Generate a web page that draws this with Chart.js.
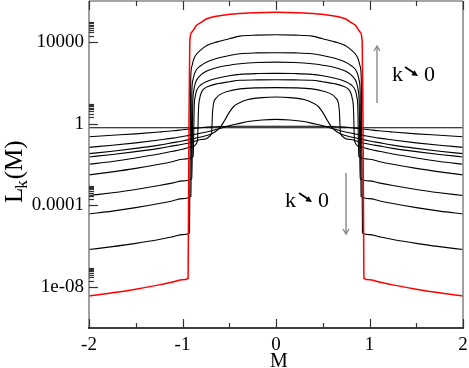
<!DOCTYPE html>
<html><head><meta charset="utf-8">
<script src="https://cdn.jsdelivr.net/npm/chart.js@4/dist/chart.umd.min.js"></script>
<style>html,body{margin:0;padding:0;background:#fff;}#wrap{width:469px;height:368px;}</style>
</head><body><div id="wrap"><canvas id="c" width="469" height="368"></canvas></div>
<script>
// ---- axis ticks ----
const xMajorTicks = [-2, -1, 0, 1, 2];
const xMinorTicks = [-1.5, -0.5, 0.5, 1.5];
const yMajorTicks = [1e-8, 1e-4, 1, 1e4];
const yTickLabels = ['1e-08', '0.0001', '1', '10000'];
const yMinorMultipliers = [2, 3, 4, 5, 6, 7, 8, 9];

// ---- curves: M values and log10(L_k(M)) ----
const mRed = [-2,-1.75,-1.5,-1.25,-1.1,-1,-0.94,-0.931,-0.922,-0.9,-0.85,-0.81,-0.74,-0.53,-0.3,0,0.3,0.53,0.74,0.81,0.85,0.9,0.922,0.931,0.94,1,1.1,1.25,1.5,1.75,2];
const logRed = [-8.43,-8.28,-8.10,-7.89,-7.75,-7.64,-7.57,0,4.0,4.48,4.81,4.93,5.13,5.33,5.41,5.45,5.41,5.33,5.13,4.93,4.81,4.48,4.0,0,-7.57,-7.64,-7.75,-7.89,-8.10,-8.28,-8.43];

const m9 = [-2,-1.75,-1.5,-1.25,-1.1,-1,-0.925,-0.912,-0.9,-0.88,-0.85,-0.81,-0.74,-0.63,-0.5,-0.385,-0.2,0,0.2,0.385,0.5,0.63,0.74,0.81,0.85,0.88,0.9,0.912,0.925,1,1.1,1.25,1.5,1.75,2];
const log9 = [-6.16,-6.02,-5.86,-5.67,-5.53,-5.43,-5.35,2.2,2.8,3.15,3.4,3.58,3.82,4.0,4.15,4.28,4.33,4.35,4.33,4.28,4.15,4.0,3.82,3.58,3.4,3.15,2.8,2.2,-5.35,-5.43,-5.53,-5.67,-5.86,-6.02,-6.16];

const m8 = [-2,-1.75,-1.5,-1.25,-1.1,-1,-0.91,-0.9,-0.89,-0.875,-0.85,-0.81,-0.74,-0.63,-0.5,-0.385,-0.2,0,0.2,0.385,0.5,0.63,0.74,0.81,0.85,0.875,0.89,0.9,0.91,1,1.1,1.25,1.5,1.75,2];
const log8 = [-4.42,-4.28,-4.11,-3.91,-3.77,-3.67,-3.56,1.5,2.1,2.4,2.65,2.82,3.02,3.2,3.33,3.42,3.46,3.47,3.46,3.42,3.33,3.2,3.02,2.82,2.65,2.4,2.1,1.5,-3.56,-3.67,-3.77,-3.91,-4.11,-4.28,-4.42];

const m7 = [-2,-1.75,-1.5,-1.25,-1.1,-1,-0.9,-0.89,-0.88,-0.865,-0.84,-0.8,-0.74,-0.63,-0.5,-0.385,-0.2,0,0.2,0.385,0.5,0.63,0.74,0.8,0.84,0.865,0.88,0.89,0.9,1,1.1,1.25,1.5,1.75,2];
const log7 = [-3.52,-3.38,-3.22,-3.03,-2.90,-2.80,-2.69,1.0,1.6,1.95,2.2,2.4,2.57,2.75,2.86,2.93,2.99,3.01,2.99,2.93,2.86,2.75,2.57,2.4,2.2,1.95,1.6,1.0,-2.69,-2.80,-2.90,-3.03,-3.22,-3.38,-3.52];

const m6 = [-2,-1.75,-1.5,-1.25,-1.1,-1,-0.885,-0.875,-0.865,-0.85,-0.82,-0.78,-0.72,-0.63,-0.5,-0.385,-0.2,0,0.2,0.385,0.5,0.63,0.72,0.78,0.82,0.85,0.865,0.875,0.885,1,1.1,1.25,1.5,1.75,2];
const log6 = [-2.51,-2.36,-2.19,-1.99,-1.85,-1.74,-1.61,0.8,1.3,1.6,1.83,1.97,2.1,2.22,2.34,2.41,2.45,2.46,2.45,2.41,2.34,2.22,2.1,1.97,1.83,1.6,1.3,0.8,-1.61,-1.74,-1.85,-1.99,-2.19,-2.36,-2.51];

const m5 = [-2,-1.75,-1.5,-1.25,-1.1,-1,-0.9,-0.84,-0.828,-0.815,-0.8,-0.77,-0.72,-0.63,-0.5,-0.385,-0.2,0,0.2,0.385,0.5,0.63,0.72,0.77,0.8,0.815,0.828,0.84,0.9,1,1.1,1.25,1.5,1.75,2];
const log5 = [-1.99,-1.85,-1.68,-1.49,-1.35,-1.25,-1.13,-0.85,0.8,1.25,1.5,1.7,1.83,1.95,2.05,2.12,2.14,2.15,2.14,2.12,2.05,1.95,1.83,1.7,1.5,1.25,0.8,-0.85,-1.13,-1.25,-1.35,-1.49,-1.68,-1.85,-1.99];

const m4 = [-2,-1.75,-1.5,-1.25,-1.1,-1,-0.9,-0.8,-0.69,-0.678,-0.665,-0.64,-0.6,-0.5,-0.385,-0.2,0,0.2,0.385,0.5,0.6,0.64,0.665,0.678,0.69,0.8,0.9,1,1.1,1.25,1.5,1.75,2];
const log4 = [-1.63,-1.51,-1.37,-1.21,-1.09,-1.01,-0.91,-0.78,-0.5,0.6,1.05,1.25,1.42,1.6,1.70,1.75,1.76,1.75,1.70,1.6,1.42,1.25,1.05,0.6,-0.5,-0.78,-0.91,-1.01,-1.09,-1.21,-1.37,-1.51,-1.63];

const m3 = [-2,-1.75,-1.5,-1.25,-1.1,-1,-0.9,-0.8,-0.7,-0.65,-0.6,-0.55,-0.5,-0.45,-0.4,-0.3,-0.15,0,0.15,0.3,0.4,0.45,0.5,0.55,0.6,0.65,0.7,0.8,0.9,1,1.1,1.25,1.5,1.75,2];
const log3 = [-1.47,-1.35,-1.21,-1.05,-0.93,-0.85,-0.75,-0.65,-0.52,-0.4,-0.2,0.15,0.55,0.85,1.0,1.18,1.27,1.30,1.27,1.18,1.0,0.85,0.55,0.15,-0.2,-0.4,-0.52,-0.65,-0.75,-0.85,-0.93,-1.05,-1.21,-1.35,-1.47];

const m2 = [-2,-1.75,-1.5,-1.25,-1.1,-1,-0.9,-0.8,-0.7,-0.6,-0.5,-0.4,-0.3,-0.15,0,0.15,0.3,0.4,0.5,0.6,0.7,0.8,0.9,1,1.1,1.25,1.5,1.75,2];
const log2 = [-1.16,-1.06,-0.94,-0.80,-0.71,-0.63,-0.55,-0.46,-0.36,-0.24,-0.1,0.0,0.1,0.18,0.21,0.18,0.1,0.0,-0.1,-0.24,-0.36,-0.46,-0.55,-0.63,-0.71,-0.80,-0.94,-1.06,-1.16];

const m1 = [-2,-1.75,-1.5,-1.25,-1.1,-1,-0.9,-0.8,-0.7,-0.6,-0.4,0,0.4,0.6,0.7,0.8,0.9,1,1.1,1.25,1.5,1.75,2];
const log1 = [-0.64,-0.57,-0.5,-0.41,-0.35,-0.3,-0.25,-0.2,-0.16,-0.14,-0.13,-0.13,-0.13,-0.14,-0.16,-0.2,-0.25,-0.3,-0.35,-0.41,-0.5,-0.57,-0.64];

const mFlat = [-2, 2];
const logFlat = [-0.2, -0.2];

// ---- build datasets ----
function pts(ms, logs) { return ms.map((m, i) => ({ x: m, y: Math.pow(10, logs[i]) })); }
const curveDefs = [
  { m: mRed, l: logRed, color: '#ff0000', w: 1.5 },
  { m: m9, l: log9, color: '#000', w: 1.1 },
  { m: m8, l: log8, color: '#000', w: 1.1 },
  { m: m7, l: log7, color: '#000', w: 1.1 },
  { m: m6, l: log6, color: '#000', w: 1.1 },
  { m: m5, l: log5, color: '#000', w: 1.1 },
  { m: m4, l: log4, color: '#000', w: 1.1 },
  { m: m3, l: log3, color: '#000', w: 1.1 },
  { m: m2, l: log2, color: '#000', w: 1.1 },
  { m: m1, l: log1, color: '#000', w: 1.1 },
  { m: mFlat, l: logFlat, color: '#000', w: 1.1 }
];
const datasets = curveDefs.map(c => ({
  data: pts(c.m, c.l), borderColor: c.color, borderWidth: c.w,
  pointRadius: 0, fill: false, cubicInterpolationMode: 'monotone'
}));

const SERIF = '"Liberation Serif", "DejaVu Serif", serif';

function arrowHead(ctx, x, y, dx, dy, len, half, filled) {
  const n = Math.hypot(dx, dy); const ux = dx / n, uy = dy / n;
  const bx = x - ux * len, by = y - uy * len;
  const px = -uy * half, py = ux * half;
  ctx.beginPath();
  ctx.moveTo(bx + px, by + py); ctx.lineTo(x, y); ctx.lineTo(bx - px, by - py);
  if (filled) { ctx.closePath(); ctx.fill(); } else ctx.stroke();
}

function noPad(s) { s.paddingTop = 0; s.paddingBottom = 0; s.paddingLeft = 0; s.paddingRight = 0; }

const framePlugin = {
  id: 'frame',
  afterDraw(chart) {
    const { ctx, chartArea: a, scales: { x, y } } = chart;
    ctx.save();
    // frame
    ctx.lineWidth = 1.6; ctx.strokeStyle = '#888';
    ctx.beginPath(); ctx.moveTo(a.left, a.top); ctx.lineTo(a.left, a.bottom); ctx.stroke();
    ctx.beginPath(); ctx.moveTo(a.right, a.top); ctx.lineTo(a.right, a.bottom); ctx.stroke();
    ctx.beginPath(); ctx.moveTo(a.left, a.top); ctx.lineTo(a.right, a.top); ctx.stroke();
    ctx.strokeStyle = '#000'; ctx.lineWidth = 1.5;
    ctx.beginPath(); ctx.moveTo(a.left - 1, a.bottom); ctx.lineTo(a.right + 1, a.bottom); ctx.stroke();
    // x ticks (inward, bottom and top)
    ctx.lineWidth = 1.2; ctx.strokeStyle = '#333';
    xMajorTicks.concat(xMinorTicks).forEach(v => {
      const px = Math.round(x.getPixelForValue(v)) + 0.5;
      const len = xMajorTicks.includes(v) ? 9 : 5;
      ctx.beginPath(); ctx.moveTo(px, a.bottom); ctx.lineTo(px, a.bottom - len); ctx.stroke();
      ctx.beginPath(); ctx.moveTo(px, a.top); ctx.lineTo(px, a.top + len); ctx.stroke();
    });
    // y ticks (inward, left)
    yMajorTicks.forEach(v => {
      const py = Math.round(y.getPixelForValue(v)) + 0.5;
      ctx.beginPath(); ctx.moveTo(a.left, py); ctx.lineTo(a.left + 9, py); ctx.stroke();
      yMinorMultipliers.forEach(k => {
        const q = Math.round(y.getPixelForValue(v * k)) + 0.5;
        ctx.beginPath(); ctx.moveTo(a.left, q); ctx.lineTo(a.left + 5, q); ctx.stroke();
      });
    });
    // y title L_k(M)
    ctx.fillStyle = '#000';
    ctx.save();
    ctx.translate(22, 203);
    ctx.rotate(-Math.PI / 2);
    ctx.textBaseline = 'alphabetic'; ctx.textAlign = 'left';
    ctx.font = '25px ' + SERIF;
    ctx.fillText('L', 0, 0);
    const wL = ctx.measureText('L').width;
    ctx.font = '17px ' + SERIF;
    ctx.fillText('k', wL - 1, 5);
    const wk = ctx.measureText('k').width;
    ctx.font = '25px ' + SERIF;
    ctx.fillText('(M)', wL + wk, 0);
    ctx.restore();
    // x title
    ctx.font = '20px ' + SERIF; ctx.textAlign = 'center'; ctx.textBaseline = 'alphabetic';
    ctx.fillText('M', 279, 367);
    // annotations
    ctx.strokeStyle = '#808080'; ctx.lineWidth = 1.3;
    ctx.beginPath(); ctx.moveTo(377, 103); ctx.lineTo(377, 46); ctx.stroke();
    arrowHead(ctx, 377, 46, 0, -1, 5, 3, false);
    ctx.beginPath(); ctx.moveTo(346, 173); ctx.lineTo(346, 234); ctx.stroke();
    arrowHead(ctx, 346, 234, 0, 1, 5, 3, false);
    ctx.font = '22px ' + SERIF; ctx.textAlign = 'left'; ctx.textBaseline = 'alphabetic';
    ctx.fillStyle = '#000';
    ctx.fillText('k', 392, 81);
    ctx.fillText('0', 424, 81);
    ctx.fillText('k', 285, 207);
    ctx.fillText('0', 318, 207);
    ctx.strokeStyle = '#000'; ctx.lineWidth = 1.8;
    ctx.beginPath(); ctx.moveTo(405, 67); ctx.lineTo(414, 73); ctx.stroke();
    arrowHead(ctx, 418, 76, 1, 0.65, 6, 3, true);
    ctx.beginPath(); ctx.moveTo(299, 193); ctx.lineTo(308, 199); ctx.stroke();
    arrowHead(ctx, 312, 202, 1, 0.65, 6, 3, true);
    ctx.restore();
  }
};

new Chart(document.getElementById('c'), {
  type: 'line',
  data: { datasets },
  options: {
    responsive: false, animation: false, devicePixelRatio: 1,
    layout: { padding: { top: 1, right: 6, left: 0, bottom: 0 } },
    plugins: { legend: { display: false }, tooltip: { enabled: false } },
    scales: {
      x: {
        type: 'linear', min: -2, max: 2,
        afterBuildTicks: s => { s.ticks = xMajorTicks.map(v => ({ value: v })); },
        afterFit: s => { s.height = 40; noPad(s); },
        grid: { display: false, drawTicks: false },
        border: { display: false },
        ticks: { color: '#000', font: { family: SERIF, size: 19 }, padding: 6, maxRotation: 0,
          callback: v => String(v) }
      },
      y: {
        type: 'logarithmic', min: 1e-10, max: 1e6,
        afterBuildTicks: s => { s.ticks = yMajorTicks.map(v => ({ value: v })); },
        afterFit: s => { s.width = 89; noPad(s); },
        grid: { display: false, drawTicks: false },
        border: { display: false },
        ticks: { color: '#000', font: { family: SERIF, size: 19 }, padding: 5,
          callback: (v, i) => yTickLabels[i] }
      }
    }
  },
  plugins: [framePlugin]
});
</script></body></html>
